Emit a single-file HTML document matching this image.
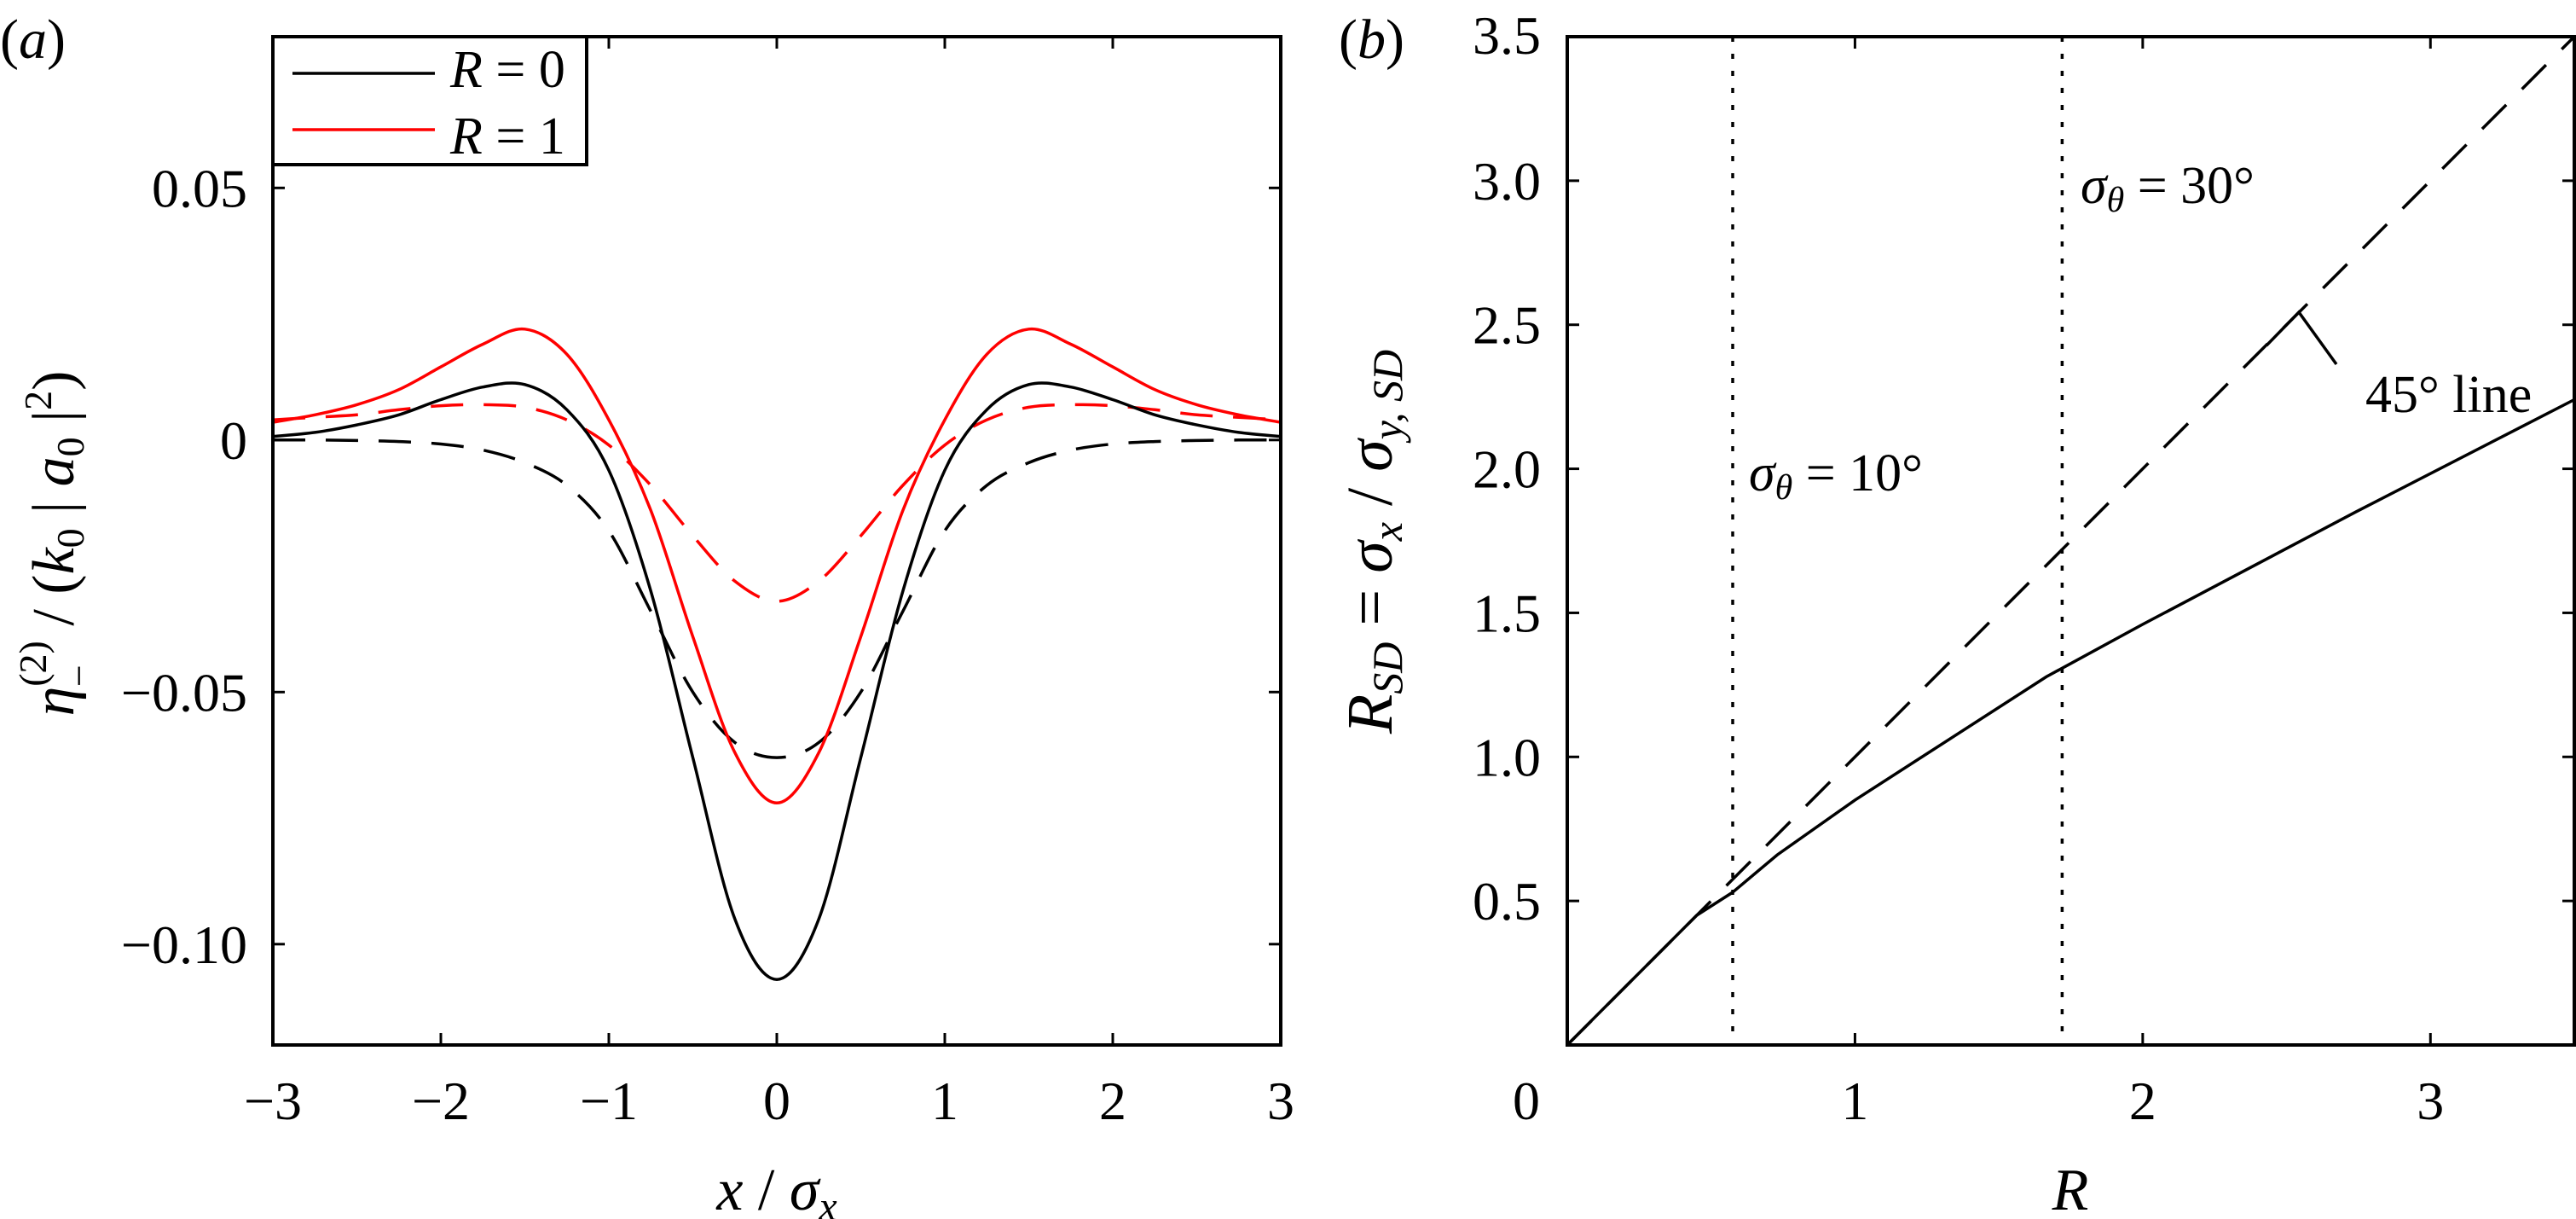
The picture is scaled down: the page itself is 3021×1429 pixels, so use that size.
<!DOCTYPE html>
<html><head><meta charset="utf-8"><style>
html,body{margin:0;padding:0;background:#fff}
svg{display:block}
text{font-family:"Liberation Serif",serif;fill:#000}
</style></head><body>
<svg id="fig" width="3021" height="1429" viewBox="0 0 3021 1429" xmlns="http://www.w3.org/2000/svg">
<g id="pa"></g>
<g id="pb"></g>
</svg>
<script>
// Panel (a) data
const aX = [-3,-2.75,-2.5,-2.25,-2,-1.75,-1.5,-1.25,-1,-0.75,-0.5,-0.25,0,0.25,0.5,0.75,1,1.25,1.5,1.75,2,2.25,2.5,2.75,3];
const aBlackSolid = [0.0007,0.0015,0.003,0.005,0.008,0.0105,0.011,0.006,-0.006,-0.03,-0.063,-0.095,-0.107,-0.095,-0.063,-0.03,-0.006,0.006,0.011,0.0105,0.008,0.005,0.003,0.0015,0.0007];
const aRedSolid = [0.0035,0.005,0.007,0.010,0.0145,0.019,0.022,0.017,0.004,-0.014,-0.039,-0.062,-0.072,-0.062,-0.039,-0.014,0.004,0.017,0.022,0.019,0.0145,0.010,0.007,0.005,0.0035];
const aBlackDash = [0,0,-0.0001,-0.0003,-0.0008,-0.002,-0.0045,-0.009,-0.018,-0.034,-0.05,-0.06,-0.063,-0.06,-0.05,-0.034,-0.018,-0.009,-0.0045,-0.002,-0.0008,-0.0003,-0.0001,0,0];
const aRedDash = [0.004,0.0045,0.005,0.006,0.0068,0.007,0.0065,0.004,-0.001,-0.009,-0.019,-0.028,-0.032,-0.028,-0.019,-0.009,-0.001,0.004,0.0065,0.007,0.0068,0.006,0.005,0.0045,0.004];
const aXTicks = [-3,-2,-1,0,1,2,3];
const aXTickLabels = ["\u22123","\u22122","\u22121","0","1","2","3"];
const aYTicks = [0.05,0,-0.05,-0.10];
const aYTickLabels = ["0.05","0","\u22120.05","\u22120.10"];
// Panel (b) data
const bSolidR = [0,0.1,0.27,0.45,0.575,0.73,1,1.665,2,2.74,3.5];
const bSolidV = [0,0.1,0.27,0.45,0.53,0.66,0.85,1.278,1.46,1.85,2.24];
const bDashR = [0,3.5];
const bDashV = [0,3.5];
const bDotted = [0.575,1.72];
const bXTicks = [0,1,2,3];
const bXTickLabels = ["0","1","2","3"];
const bYTicks = [0.5,1.0,1.5,2.0,2.5,3.0,3.5];
const bYTickLabels = ["0.5","1.0","1.5","2.0","2.5","3.0","3.5"];

const NS="http://www.w3.org/2000/svg";
function mk(tag,attrs,parent){const e=document.createElementNS(NS,tag);for(const k in attrs)e.setAttribute(k,attrs[k]);parent.appendChild(e);return e;}

const axA={x0:320,x1:1502,y0:1225,y1:43,xmin:-3,xmax:3,ymin:-0.12,ymax:0.08};
const axB={x0:1838,x1:3019,y0:1225,y1:43,xmin:0,xmax:3.5,ymin:0,ymax:3.5};
function sx(ax,v){return ax.x0+(v-ax.xmin)/(ax.xmax-ax.xmin)*(ax.x1-ax.x0);}
function sy(ax,v){return ax.y0-(v-ax.ymin)/(ax.ymax-ax.ymin)*(ax.y0-ax.y1);}

function smoothPath(ax,xs,ys){
  const p=xs.map((x,i)=>[sx(ax,x),sy(ax,ys[i])]);
  let d="M"+p[0][0].toFixed(1)+","+p[0][1].toFixed(1);
  for(let i=0;i<p.length-1;i++){
    const p0=p[i-1]||p[i],p1=p[i],p2=p[i+1],p3=p[i+2]||p[i+1];
    const c1=[p1[0]+(p2[0]-p0[0])/6,p1[1]+(p2[1]-p0[1])/6];
    const c2=[p2[0]-(p3[0]-p1[0])/6,p2[1]-(p3[1]-p1[1])/6];
    d+=" C"+c1.map(v=>v.toFixed(1)).join(",")+" "+c2.map(v=>v.toFixed(1)).join(",")+" "+p2.map(v=>v.toFixed(1)).join(",");
  }
  return d;
}
function linePath(ax,xs,ys){return xs.map((x,i)=>(i?"L":"M")+sx(ax,x).toFixed(1)+","+sy(ax,ys[i]).toFixed(1)).join(" ");}

const pa=document.getElementById('pa');
const clipA=mk('clipPath',{id:'clipA'},pa);
mk('rect',{x:axA.x0,y:axA.y1,width:axA.x1-axA.x0,height:axA.y0-axA.y1},clipA);
const curvesA=mk('g',{'clip-path':'url(#clipA)'},pa);
let e;
e=mk('path',{d:smoothPath(axA,aX,aBlackDash),fill:'none',stroke:'#000','stroke-width':3.5,'stroke-dasharray':'38,24'},curvesA);


e=mk('path',{d:smoothPath(axA,aX,aRedDash),fill:'none',stroke:'#f00','stroke-width':3.5,'stroke-dasharray':'38,24'},curvesA);


e=mk('path',{d:smoothPath(axA,aX,aBlackSolid),fill:'none',stroke:'#000','stroke-width':3.5},curvesA);


e=mk('path',{d:smoothPath(axA,aX,aRedSolid),fill:'none',stroke:'#f00','stroke-width':3.5},curvesA);



e=mk('rect',{x:axA.x0,y:axA.y1,width:axA.x1-axA.x0,height:axA.y0-axA.y1,fill:'none',stroke:'#000','stroke-width':4},pa);


aXTicks.forEach((v,i)=>{
  const x=sx(axA,v);
  if(i>0&&i<aXTicks.length-1){
    mk('line',{x1:x,y1:axA.y0,x2:x,y2:axA.y0-14,stroke:'#000','stroke-width':3},pa);
    mk('line',{x1:x,y1:axA.y1,x2:x,y2:axA.y1+14,stroke:'#000','stroke-width':3},pa);
  }
  const t=mk('text',{x:x,y:1312,'font-size':64,'text-anchor':'middle'},pa);
  t.textContent=aXTickLabels[i];
  
  
});
aYTicks.forEach((v,i)=>{
  const y=sy(axA,v);
  mk('line',{x1:axA.x0,y1:y,x2:axA.x0+14,y2:y,stroke:'#000','stroke-width':3},pa);
  mk('line',{x1:axA.x1,y1:y,x2:axA.x1-14,y2:y,stroke:'#000','stroke-width':3},pa);
  const t=mk('text',{x:290,y:y+22,'font-size':64,'text-anchor':'end'},pa);
  t.textContent=aYTickLabels[i];
  
  
});
</script>
<script>
(function(){
const pa=document.getElementById('pa');
pa.insertAdjacentHTML('beforeend',`
<text x="0" y="68" font-size="66">(<tspan font-style="italic">a</tspan>)</text>
<text x="911" y="1418" font-size="70" text-anchor="middle" font-style="italic">x<tspan font-style="normal"> / </tspan>σ<tspan font-size="48" dy="12">x</tspan></text>
<text transform="translate(86,637) rotate(-90)" font-size="70" text-anchor="middle"><tspan font-style="italic">η</tspan><tspan font-size="46" dy="-32">(2)</tspan><tspan font-size="46" dx="-54" dy="54">−</tspan><tspan dy="-22" dx="28"> / (</tspan><tspan font-style="italic">k</tspan><tspan font-size="46" dy="12">0</tspan><tspan dy="-12"> | </tspan><tspan font-style="italic">a</tspan><tspan font-size="46" dy="12">0</tspan><tspan dy="-12"> |</tspan><tspan font-size="46" dy="-26">2</tspan><tspan dy="26">)</tspan></text>
<g>
<rect x="320" y="43" width="368" height="150" fill="#fff" stroke="#000" stroke-width="4"/>
<line x1="343" y1="86" x2="510" y2="86" stroke="#000" stroke-width="3.5"/>
<text x="528" y="102" font-size="62"><tspan font-style="italic">R</tspan> = 0</text>
<line x1="343" y1="152" x2="510" y2="152" stroke="#f00" stroke-width="3.5"/>
<text x="528" y="180" font-size="62"><tspan font-style="italic">R</tspan> = 1</text>
</g>`);
})();
</script>
<script>
(function(){
const pb=document.getElementById('pb');
let e;
bDotted.forEach(v=>{
  const x=sx(axB,v);
  e=mk('line',{x1:x,y1:axB.y1,x2:x,y2:axB.y0,stroke:'#000','stroke-width':3.5,'stroke-dasharray':'6,14'},pb);
  
  
});
e=mk('path',{d:linePath(axB,bDashR,bDashV),fill:'none',stroke:'#000','stroke-width':3.5,'stroke-dasharray':'40,26'},pb);


e=mk('path',{d:linePath(axB,bSolidR,bSolidV),fill:'none',stroke:'#000','stroke-width':3.5},pb);


e=mk('rect',{x:axB.x0,y:axB.y1,width:axB.x1-axB.x0,height:axB.y0-axB.y1,fill:'none',stroke:'#000','stroke-width':4},pb);


bXTicks.forEach((v,i)=>{
  const x=sx(axB,v);
  if(i>0){
    mk('line',{x1:x,y1:axB.y0,x2:x,y2:axB.y0-14,stroke:'#000','stroke-width':3},pb);
    mk('line',{x1:x,y1:axB.y1,x2:x,y2:axB.y1+14,stroke:'#000','stroke-width':3},pb);
  }
  const t=mk('text',{x:i===0?1790:x,y:1312,'font-size':64,'text-anchor':'middle'},pb);
  t.textContent=bXTickLabels[i];
  
  
});
bYTicks.forEach((v,i)=>{
  const y=sy(axB,v);
  if(i<bYTicks.length-1){
    mk('line',{x1:axB.x0,y1:y,x2:axB.x0+14,y2:y,stroke:'#000','stroke-width':3},pb);
    mk('line',{x1:axB.x1,y1:y,x2:axB.x1-14,y2:y,stroke:'#000','stroke-width':3},pb);
  }
  const t=mk('text',{x:1807,y:y+(i===bYTicks.length-1?20:22),'font-size':64,'text-anchor':'end'},pb);
  t.textContent=bYTickLabels[i];
  
  
});
pb.insertAdjacentHTML('beforeend',`
<text x="1570" y="68" font-size="66">(<tspan font-style="italic">b</tspan>)</text>
<text x="2428" y="1418" font-size="70" text-anchor="middle" font-style="italic">R</text>
<text transform="translate(1632,635) rotate(-90)" font-size="76" text-anchor="middle"><tspan font-style="italic">R</tspan><tspan font-style="italic" font-size="50" dy="12">SD</tspan><tspan dy="-12"> = </tspan><tspan font-style="italic">σ</tspan><tspan font-style="italic" font-size="50" dy="12">x</tspan><tspan dy="-12"> / </tspan><tspan font-style="italic">σ</tspan><tspan font-style="italic" font-size="50" dy="12">y, SD</tspan></text>
<text x="2051" y="575" font-size="62"><tspan font-style="italic">σ</tspan><tspan font-style="italic" font-size="42" dy="10">θ</tspan><tspan dy="-10"> = 10°</tspan></text>
<text x="2440" y="238" font-size="62"><tspan font-style="italic">σ</tspan><tspan font-style="italic" font-size="42" dy="10">θ</tspan><tspan dy="-10"> = 30°</tspan></text>
<polyline points="2658,405 2696,366 2740,427" fill="none" stroke="#000" stroke-width="3.5"/>
<text x="2774" y="483" font-size="62">45° line</text>`);
})();
</script>
</body></html>
